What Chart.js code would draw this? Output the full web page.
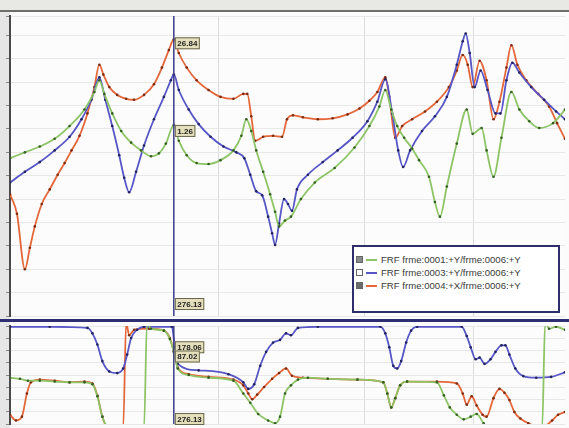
<!DOCTYPE html>
<html>
<head>
<meta charset="utf-8">
<script src="https://cdn.jsdelivr.net/npm/chart.js@4.4.1/dist/chart.umd.min.js"></script>
<style>
body { margin: 0; width: 569px; height: 428px; overflow: hidden; background: #fbfbfb; position: relative; font-family: "Liberation Sans", Arial, sans-serif; }
#topbar { position: absolute; left: 0; top: 0; width: 569px; height: 10px; background: #e8e8e4; border-bottom: 2px solid #6e6e6e; }
#magWrap { position: absolute; left: 0; top: 12px; width: 569px; height: 308px; }
#phaseWrap { position: absolute; left: 0; top: 322px; width: 569px; height: 106px; }
#divider { position: absolute; left: 0; top: 319px; width: 569px; height: 3px; background: #2e2e72; }
#legend { position: absolute; left: 352px; top: 245px; width: 204px; height: 58px; background: #fff; border: 2px solid #2e2e6a; padding-top: 6px; }
.row { height: 13px; display: flex; align-items: center; font-size: 9.6px; color: #3a3a3a; white-space: nowrap; }
.mk { width: 5px; height: 5px; border: 1px solid #666; margin: 0 3px 0 2px; }
.ln { width: 11px; height: 2px; margin-right: 4px; }
</style>
</head>
<body>
<div id="topbar"></div>
<div id="magWrap"><canvas id="mag" width="569" height="308"></canvas></div>
<div id="phaseWrap"><canvas id="phase" width="569" height="106"></canvas></div>
<div id="divider"></div>
<div id="legend"></div>
<script>
// spectral line index (x) and magnitude in dB / phase in degrees (y)
var cursorLine = 175;
var cursorText = "276.13";
var xGrid = [220, 367, 477];

var seriesNames = ["FRF frme:0001:+Y/frme:0006:+Y", "FRF frme:0003:+Y/frme:0006:+Y", "FRF frme:0004:+X/frme:0006:+Y"];
var colors = ["#8cc466", "#5656c6", "#e4673a"];
var dotColors = ["#355f25", "#23235e", "#7a2c12"];

var magGreen = [[10,-19.5],[25,-18],[40,-16.5],[55,-14.5],[70,-11.25],[85,-7],[95,-2.5],[100,0.5],[105,-3],[113,-8],[122,-12.5],[132,-15.5],[142,-17.5],[152,-19],[160,-18.25],[167,-15.75],[175,-11],[180,-15],[188,-18.75],[198,-20.75],[210,-21],[222,-20],[235,-17.5],[243,-13.75],[248,-9.5],[253,-12.5],[258,-17.5],[265,-23],[272,-28.75],[277,-33.25],[281,-37],[287,-35.5],[293,-34.5],[303,-30],[317,-25.75],[337,-22],[357,-16.75],[372,-11.25],[382,-6.25],[388,-2],[394,-7],[400,-11.25],[407,-14.25],[415,-17],[422,-20],[432,-24.25],[438,-30.75],[443,-34.5],[450,-26.75],[460,-15.75],[470,-7],[476,-13.25],[485,-11.75],[490,-17.5],[497,-24.25],[505,-14.25],[515,-2.5],[523,-7],[533,-10],[543,-11.75],[557,-10.5],[569,-7]];
var magBlue = [[10,-25.75],[25,-23],[40,-20.5],[55,-17.5],[70,-14],[82,-9.5],[92,-4.5],[100,1.25],[106,-4.5],[113,-11.25],[120,-18.75],[125,-24.5],[130,-28.25],[137,-23],[145,-16.25],[155,-9.5],[165,-3.75],[172,0.5],[175,2],[180,-2],[190,-7],[200,-10.75],[212,-14],[225,-16.5],[238,-18],[246,-19.5],[252,-23.75],[258,-28],[264,-29],[270,-34.5],[274,-38.75],[277,-41.75],[281,-36.25],[286,-30],[290,-31.25],[294,-33],[299,-27.5],[310,-23.75],[325,-20.5],[340,-17.5],[355,-14.25],[370,-10],[380,-5],[388,0.75],[395,-8],[401,-17.5],[406,-21.75],[413,-17.5],[425,-12.5],[438,-8.75],[450,-3.75],[460,4.5],[466,10.5],[469,12.5],[473,7.5],[478,-1.25],[484,3],[491,-2],[499,-8],[504,-8],[510,0.5],[516,5],[523,2.5],[535,-1.25],[548,-4.5],[560,-7.5],[569,-9.5]];
var magOrange = [[10,-28.75],[17,-33.75],[25,-48],[30,-42.5],[35,-37],[42,-31.25],[50,-27.5],[58,-23.75],[65,-20.75],[72,-17.5],[80,-13.75],[88,-8],[95,-1.25],[100,4.5],[104,2],[110,-1.25],[118,-3.25],[127,-4.25],[135,-4.5],[145,-3.25],[155,-0.5],[163,3.75],[170,8.25],[175,11],[180,7.5],[188,3.75],[198,0.5],[210,-2],[222,-3.75],[235,-4.25],[245,-3],[249,-3],[253,-8.75],[257,-15],[265,-14],[275,-13.75],[284,-14],[289,-9.5],[295,-8.5],[305,-9],[320,-9.5],[335,-9.25],[350,-8.25],[362,-6.75],[372,-4.75],[380,-2.5],[388,1.25],[392,-3.75],[398,-14.25],[405,-11.25],[415,-9.5],[428,-7.5],[440,-5],[452,-1.25],[460,3],[466,7],[471,4.5],[476,-1.25],[483,5.5],[490,0.5],[497,-9.5],[503,-5],[510,3.75],[515,9.5],[521,4.5],[530,0.5],[542,-3],[553,-6.25],[561,-10.5],[569,-14.5]];

var phaseGreen = [[10,-10],[20,-14],[28,-21],[40,-21],[55,-24],[70,-27],[85,-27],[93,-34],[98,-78],[103,-153],[108,-187],[145,-194],[148,194],[152,170],[165,163],[171,132],[175,85],[179,24],[190,0],[210,-10],[235,-21],[245,-68],[252,-102],[260,-143],[270,-167],[277,-177],[282,-153],[287,-68],[293,-38],[300,-17],[310,-10],[330,-14],[360,-17],[386,-27],[390,-68],[394,-119],[398,-85],[403,-38],[410,-24],[440,-27],[447,-75],[453,-119],[460,-146],[467,-163],[474,-153],[480,-143],[487,-177],[492,-194],[546,-194],[549,194],[553,170],[560,177],[569,166]];
var phaseBlue = [[10,177],[50,177],[88,173],[93,153],[98,112],[103,51],[110,13],[118,7],[124,24],[128,75],[132,136],[138,166],[145,177],[173,177],[176,102],[179,41],[200,17],[230,3],[245,-27],[250,-51],[256,-34],[262,34],[268,85],[275,119],[282,129],[288,153],[293,146],[300,173],[320,177],[383,177],[388,153],[392,102],[396,34],[400,24],[404,51],[409,119],[414,163],[420,177],[465,177],[470,143],[474,102],[479,58],[483,64],[488,41],[494,58],[499,85],[505,109],[509,109],[513,75],[519,24],[527,-4],[540,-10],[555,-7],[569,10]];
var phaseOrange = [[10,-146],[16,-167],[22,-153],[27,-68],[31,-27],[40,-17],[55,-21],[70,-27],[85,-24],[93,-31],[98,-75],[103,-153],[107,-187],[124,-194],[127,194],[130,146],[135,166],[150,170],[165,163],[171,136],[175,85],[179,27],[190,3],[210,-7],[235,-17],[245,-38],[250,-68],[254,-89],[259,-72],[266,-44],[274,-14],[281,7],[288,24],[294,-3],[305,-10],[330,-14],[360,-17],[386,-27],[390,-68],[394,-119],[398,-85],[403,-38],[410,-24],[440,-24],[460,-31],[466,-68],[470,-109],[475,-78],[480,-112],[486,-146],[490,-153],[497,-85],[503,-51],[508,-65],[513,-92],[518,-136],[524,-160],[532,-177],[540,-187],[548,-187],[556,-167],[562,-146],[569,-136]];

var magReadouts = [{ text: "26.84", value: 10 }, { text: "1.26", value: -12.5 }];
var phaseReadouts = [{ text: "178.06", value: 102 }, { text: "87.02", value: 68 }];

function toPoints(arr) {
    return arr.map(function (p) { return { x: p[0], y: p[1] }; });
}

function makeDatasets(list) {
    return list.map(function (arr, i) {
        return {
            label: seriesNames[i],
            data: toPoints(arr),
            borderColor: colors[i],
            borderWidth: 1.8,
            pointRadius: 1.3,
            pointBorderWidth: 0,
            pointBackgroundColor: dotColors[i],
            cubicInterpolationMode: "monotone",
            clip: 0
        };
    });
}

function drawBox(ctx, x, y, text) {
    ctx.font = "bold 8px 'Liberation Sans', Arial";
    var w = ctx.measureText(text).width + 5;
    ctx.fillStyle = "#e4dfba";
    ctx.fillRect(x, y, w, 12);
    ctx.strokeStyle = "#6a6850";
    ctx.lineWidth = 1;
    ctx.strokeRect(x + 0.5, y + 0.5, w - 1, 11);
    ctx.fillStyle = "#1e1e1e";
    ctx.textBaseline = "middle";
    ctx.fillText(text, x + 2.5, y + 6.5);
}

var cursorPlugin = {
    id: "cursor",
    beforeDraw: function (chart) {
        var ctx = chart.ctx, a = chart.chartArea;
        ctx.save();
        ctx.fillStyle = "#fcfcfc";
        ctx.fillRect(a.left, a.top, a.right - a.left, a.bottom - a.top);
        ctx.fillStyle = "#e6e6e6";
        ctx.fillRect(0, 0, a.left, chart.height);
        ctx.restore();
    },
    afterDatasetsDraw: function (chart, args, opts) {
        var ctx = chart.ctx, a = chart.chartArea;
        var x = chart.scales.x.getPixelForValue(cursorLine);
        ctx.save();
        ctx.strokeStyle = "#3a3a88";
        ctx.lineWidth = 1.5;
        ctx.beginPath();
        ctx.moveTo(x, a.top);
        ctx.lineTo(x, a.bottom);
        ctx.stroke();
        opts.readouts.forEach(function (r) {
            drawBox(ctx, x + 1, chart.scales.y.getPixelForValue(r.value) - 6, r.text);
        });
        drawBox(ctx, x + 1, a.bottom - opts.bottomOffset, cursorText);
        ctx.restore();
    }
};

function makeOptions(yMin, yMax, step, readouts, bottomOffset) {
    return {
        responsive: false,
        devicePixelRatio: 1,
        animation: false,
        layout: { padding: 0 },
        plugins: {
            legend: { display: false },
            tooltip: { enabled: false },
            cursor: { readouts: readouts, bottomOffset: bottomOffset }
        },
        scales: {
            x: {
                type: "linear",
                min: 10,
                max: 569,
                ticks: { display: false },
                grid: { color: "#dcdcdc", drawTicks: false },
                border: { display: false },
                afterBuildTicks: function (scale) {
                    scale.ticks = xGrid.map(function (v) { return { value: v }; });
                },
                afterFit: function (scale) { scale.height = 0; }
            },
            y: {
                min: yMin,
                max: yMax,
                ticks: { display: false, stepSize: step },
                grid: { color: "#e8e8e8", tickLength: 4, tickColor: "#888" },
                border: { color: "#4a4a4a", width: 2 },
                afterFit: function (scale) { scale.width = 10; }
            }
        }
    };
}

new Chart(document.getElementById("mag"), {
    type: "line",
    data: { datasets: makeDatasets([magGreen, magBlue, magOrange]) },
    options: makeOptions(-60, 17, 6, magReadouts, 18),
    plugins: [cursorPlugin]
});

new Chart(document.getElementById("phase"), {
    type: "line",
    data: { datasets: makeDatasets([phaseGreen, phaseBlue, phaseOrange]) },
    options: makeOptions(-180, 180, 45, phaseReadouts, 11),
    plugins: [cursorPlugin]
});

// legend box inside the magnitude plot
var legend = document.getElementById("legend");
var markFill = ["#8a8a8a", "#ffffff", "#6a6a6a"];
seriesNames.forEach(function (name, i) {
    var row = document.createElement("div");
    row.className = "row";
    row.innerHTML = '<span class="mk" style="background:' + markFill[i] + '"></span>' +
        '<span class="ln" style="background:' + colors[i] + '"></span>' + name;
    legend.appendChild(row);
});
</script>
</body>
</html>
